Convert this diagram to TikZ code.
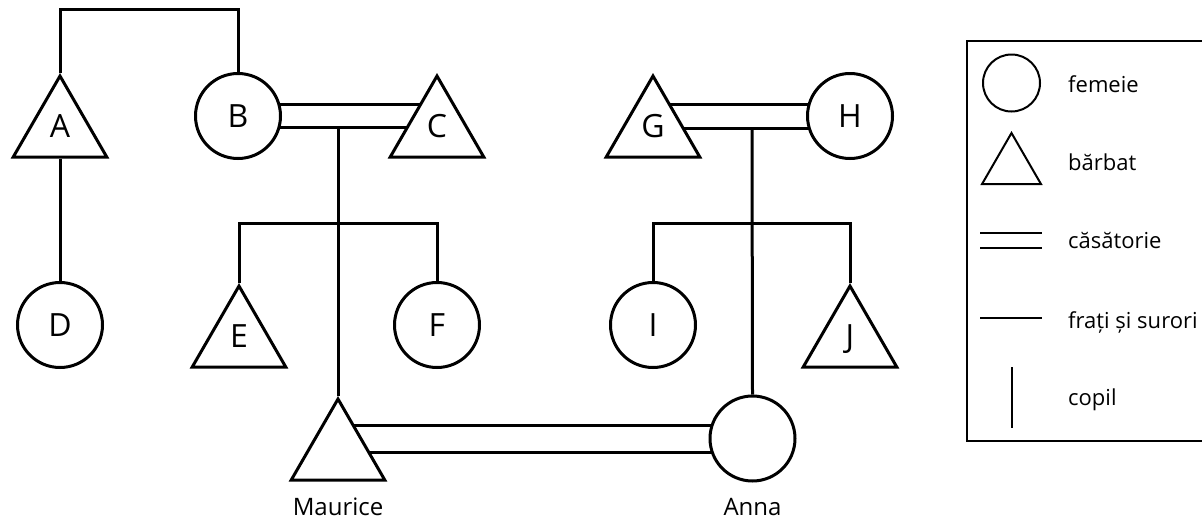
\documentclass[tikz,border=0pt]{standalone}
\usepackage{fontspec}
\setmainfont{Open Sans}
\usepackage{tikz}
\usetikzlibrary{shapes.geometric,positioning,backgrounds}

\begin{document}
\begin{tikzpicture}[
    x=1pt, y=-1pt,
    female/.style={circle, draw=black, line width=3pt, fill=white, minimum size=85pt, inner sep=0pt, font=\fontsize{32}{38}\selectfont},
    male/.style={regular polygon, regular polygon sides=3, draw=black, line width=3pt, fill=white, minimum size=108pt, inner sep=0pt, text height=23pt, text depth=8pt, font=\fontsize{32}{38}\selectfont},
    personname/.style={font=\fontsize{24}{29}\selectfont, inner sep=0pt, anchor=base},
    kin/.style={line width=3pt},
    legline/.style={line width=2pt},
    legtext/.style={font=\fontsize{22}{26}\selectfont, inner sep=0pt, anchor=base west}
]
    \useasboundingbox (0,0) rectangle (1202,520);

    % people
    \node[male] (A) at (60,130) {A};
    \node[female] (B) at (238,116) {B};
    \node[male] (C) at (437,130) {C};
    \node[female] (D) at (60,325) {D};
    \node[male] (E) at (239,340) {E};
    \node[female] (F) at (437,325) {F};
    \node[male] (G) at (653,130) {G};
    \node[female] (H) at (850,116) {H};
    \node[female] (I) at (653,325) {I};
    \node[male] (J) at (850,340) {J};
    \node[male] (maurice) at (338,453) {};
    \node[female] (anna) at (752.5,438.5) {};
    \node[personname] (mauricename) at (338,515) {Maurice};
    \node[personname] (annaname) at (752.5,515) {Anna};

    % junctions
    \coordinate (top) at (150,9);
    \coordinate (bcup) at (338,104.3);
    \coordinate (bclow) at (338,127.7);
    \coordinate (efbar) at (338,223);
    \coordinate (ghup) at (752,104);
    \coordinate (ghlow) at (752,128.3);
    \coordinate (ijbar) at (752,223);
    \coordinate (maup) at (545,425);
    \coordinate (malow) at (545,452);

    % marriages
    \begin{scope}[on background layer]
        \draw[kin] (B |- bcup) -- (C |- bcup);
        \draw[kin] (B |- bclow) -- (C |- bclow);
        \draw[kin] (G |- ghup) -- (H |- ghup);
        \draw[kin] (G |- ghlow) -- (H |- ghlow);
        \draw[kin] (maurice |- maup) -- (anna |- maup);
        \draw[kin] (maurice |- malow) -- (anna |- malow);
    \end{scope}

    % siblings and children
    \draw[kin] (A.north) |- (top) -| (B.north);
    \draw[kin] (A.south) -- (D.north);
    \draw[kin] (E.north) |- (efbar) -| (F.north);
    \draw[kin] (bclow) -- (maurice.north);
    \draw[kin] (I.north) |- (ijbar) -| (J.north);
    \draw[kin] (ghlow) -- (anna.north);

    % legend
    \draw[legline] (967,41) rectangle (1206,441);
    \node[female, line width=2pt, minimum size=57pt] (keyfemale) at (1011.5,83) {};
    \node[male, line width=2pt, minimum size=68pt, text height=0pt, text depth=0pt] (keymale) at (1011.5,167) {};
    \draw[legline] (980,233) -- (1042,233);
    \draw[legline] (980,248) -- (1042,248);
    \draw[legline] (980,318) -- (1042,318);
    \draw[legline] (1012,367) -- (1012,428);
    \node[legtext] (keyfemaletext) at (1068,92) {femeie};
    \node[legtext] (keymaletext) at (1068,170) {bărbat};
    \node[legtext] (keymarriagetext) at (1068,248) {căsătorie};
    \node[legtext] (keysiblingtext) at (1068,328) {frați și surori};
    \node[legtext] (keychildtext) at (1068,405) {copil};
\end{tikzpicture}
\end{document}
